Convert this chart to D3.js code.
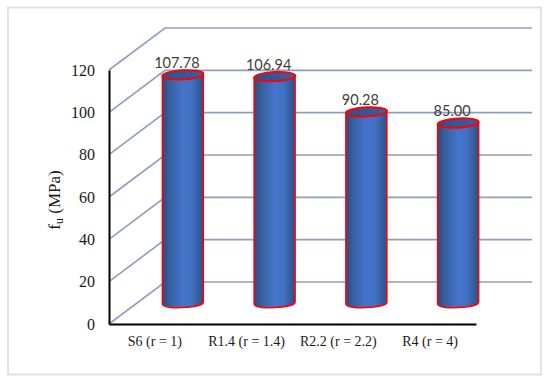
<!DOCTYPE html>
<html><head><meta charset="utf-8">
<script src="https://cdn.jsdelivr.net/npm/d3@7"></script>
<style>html,body{margin:0;padding:0;background:#fff}svg{display:block}</style>
</head><body><svg id="c" width="550" height="382"></svg>
<script>
const categories = ["S6 (r = 1)", "R1.4 (r = 1.4)", "R2.2 (r = 2.2)", "R4 (r = 4)"];
const values = [107.78, 106.94, 90.28, 85.00];
const yTicks = [0, 20, 40, 60, 80, 100, 120];
const yTitle = "f";
const yTitleSub = "u";
const yTitleRest = " (MPa)";

const svg = d3.select("#c");
const depthX = 56, depthY = 42;
const plotLeft = 109, plotRight = 476, plotBottom = 324, plotTop = 70, backRight = 532;
const y = d3.scaleLinear().domain([0, 120]).range([plotBottom, plotTop]);
const x = d3.scaleBand().domain(categories).range([plotLeft, plotRight]);

const defs = svg.append("defs");
const g1 = defs.append("linearGradient").attr("id", "body");
[[0, "#2c4a80"], [0.18, "#38609f"], [0.5, "#4674cc"], [0.72, "#4270c2"], [1, "#2f4f86"]]
  .forEach(([o, c]) => g1.append("stop").attr("offset", o).attr("stop-color", c));
const g2 = defs.append("linearGradient").attr("id", "cap");
[[0, "#2f5188"], [1, "#3a5f9f"]]
  .forEach(([o, c]) => g2.append("stop").attr("offset", o).attr("stop-color", c));

svg.append("rect").attr("x", 8).attr("y", 7.5).attr("width", 533).attr("height", 367)
  .attr("fill", "#fff").attr("stroke", "#e2e2e2").attr("stroke-width", 2);

// wall grid
const grid = svg.append("g").attr("fill", "none").attr("stroke", "#8d9fbc").attr("stroke-width", 1.6);
grid.selectAll("path").data(yTicks).join("path")
  .attr("d", d => `M${plotLeft},${y(d)}L${plotLeft + depthX},${y(d) - depthY}L${backRight},${y(d) - depthY}`);

// cylinders
const rx = 20.5, ry = 4.6, tilt = -3;
const floorY = depthY / 2, shiftX = depthX / 2;
const cx = d => x(d) + x.bandwidth() / 2 + shiftX;
const marks = svg.append("g").selectAll("g").data(categories.map((c, i) => ({c, v: values[i]}))).join("g")
  .attr("transform", d => `translate(${cx(d.c)},0)`);
const tiltY = rx * Math.sin(tilt * Math.PI / 180);
const bulge = ry * 4 / 3;
marks.append("path")
  .attr("d", d => {
    const tp = y(d.v) - floorY, bt = y(0) - floorY;
    return `M${-rx},${tp - tiltY}L${-rx},${bt - tiltY}`
      + `C${-rx},${bt - tiltY + bulge} ${rx},${bt + tiltY + bulge} ${rx},${bt + tiltY}`
      + `L${rx},${tp + tiltY}Z`;
  })
  .attr("fill", "url(#body)").attr("stroke", "#ff0000").attr("stroke-width", 1.5).attr("stroke-linejoin", "round");
marks.append("ellipse")
  .attr("cx", 0).attr("cy", d => y(d.v) - floorY).attr("rx", rx).attr("ry", ry)
  .attr("transform", d => `rotate(${tilt} 0 ${y(d.v) - floorY})`)
  .attr("fill", "url(#cap)").attr("stroke", "#ff0000").attr("stroke-width", 2);
marks.append("text")
  .attr("x", -6).attr("y", d => y(d.v) - floorY - 7)
  .attr("text-anchor", "middle").attr("fill", "#404040")
  .attr("font-family", "Lato,sans-serif").attr("font-size", 14.5)
  .text(d => d.v.toFixed(2));

// axes
const yAxis = svg.append("g").attr("transform", `translate(${plotLeft},0)`)
  .call(d3.axisLeft(y).tickValues(yTicks).tickSize(0).tickPadding(14));
const xAxis = svg.append("g").attr("transform", `translate(0,${plotBottom})`)
  .call(d3.axisBottom(x).tickSize(0).tickPadding(12));
yAxis.selectAll("text").attr("font-family", "'Liberation Serif',serif").attr("font-size", 16).attr("fill", "#1a1a1a");
xAxis.selectAll("text").attr("font-family", "'Liberation Serif',serif").attr("font-size", 14).attr("fill", "#1a1a1a");
yAxis.select(".domain").attr("stroke", "#000").attr("stroke-width", 2);
xAxis.select(".domain").attr("stroke", "#000").attr("stroke-width", 2);

const titleText = svg.append("text").attr("transform", "translate(60,200) rotate(-90)")
  .attr("text-anchor", "middle").attr("font-family", "'Liberation Serif',serif")
  .attr("font-size", 17).attr("fill", "#1a1a1a");
titleText.append("tspan").text(yTitle);
titleText.append("tspan").text(yTitleSub).attr("font-size", 12).attr("dy", 3);
titleText.append("tspan").text(yTitleRest).attr("dy", -3);
</script></body></html>
